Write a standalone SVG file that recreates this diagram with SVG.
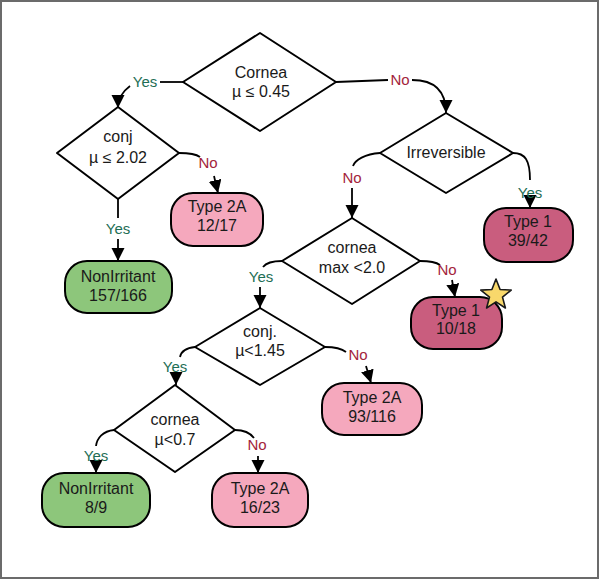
<svg xmlns="http://www.w3.org/2000/svg" width="600" height="580" viewBox="0 0 600 580">
<defs>
<marker id="arr" markerUnits="userSpaceOnUse" markerWidth="13" markerHeight="14" viewBox="0 0 13 14" refX="13" refY="6.5" orient="auto">
<path d="M0,0 L13,6.5 L0,13 Z" fill="#000"/>
</marker>
<style>
.d{fill:#fff;stroke:#000;stroke-width:2;stroke-linejoin:round}
.b{stroke:#000;stroke-width:2}
.pink{fill:#F5A8BD}
.dark{fill:#C95D7E}
.green{fill:#8DC67B}
text{font-family:"Liberation Sans",Arial,sans-serif;font-size:16px;text-anchor:middle;fill:#1a1a1a}
.yes{fill:#1E6E55;font-size:15px}
.no{fill:#A3243B;font-size:15px}
.c{fill:none;stroke:#000;stroke-width:1.8}
</style>
</defs>
<rect x="1" y="1" width="597" height="577" fill="#fff" stroke="#6b6b6b" stroke-width="2"/>
<g id="connectors">
<path class="c" d="M183,82 L160,82"/>
<path class="c" d="M130,86 C122,92 118,98 118,108" marker-end="url(#arr)"/>
<path class="c" d="M336,82 L388,80"/>
<path class="c" d="M412,80 C435,80 446,92 446,113" marker-end="url(#arr)"/>
<path class="c" d="M179,153 C190,153 196,154 200,157"/>
<path class="c" d="M214,176 L218,193" marker-end="url(#arr)"/>
<path class="c" d="M118,199 L118,218"/>
<path class="c" d="M118,239 L118,261" marker-end="url(#arr)"/>
<path class="c" d="M513,153 C525,153 530,160 530,180"/>
<path class="c" d="M530,203 L530,208" marker-end="url(#arr)"/>
<path class="c" d="M380,153 C365,154 355,160 353,166"/>
<path class="c" d="M352,188 L352,218" marker-end="url(#arr)"/>
<path class="c" d="M420,261 C430,261 436,262 440,265"/>
<path class="c" d="M452,280 L455,297" marker-end="url(#arr)"/>
<path class="c" d="M282,261 C272,261 266,263 263,267"/>
<path class="c" d="M260,287 L260,308" marker-end="url(#arr)"/>
<path class="c" d="M325,347 C335,347 341,348 346,352"/>
<path class="c" d="M366,366 L371,383" marker-end="url(#arr)"/>
<path class="c" d="M195,347 C185,348 181,352 180,357"/>
<path class="c" d="M176,376 L176,385" marker-end="url(#arr)"/>
<path class="c" d="M235,430 C245,430 251,434 254,438"/>
<path class="c" d="M258,456 L258,473" marker-end="url(#arr)"/>
<path class="c" d="M114,430 C103,431 97,438 96,446"/>
<path class="c" d="M96,466 L96,473" marker-end="url(#arr)"/>
<text class="yes" x="145" y="87">Yes</text>
<text class="no" x="400" y="85">No</text>
<text class="no" x="208" y="168">No</text>
<text class="yes" x="118" y="234">Yes</text>
<text class="yes" x="530" y="198">Yes</text>
<text class="no" x="352" y="183">No</text>
<text class="no" x="447" y="275">No</text>
<text class="yes" x="261" y="282">Yes</text>
<text class="no" x="358" y="360">No</text>
<text class="yes" x="175" y="372">Yes</text>
<text class="no" x="257" y="450">No</text>
<text class="yes" x="96" y="461">Yes</text>
</g>
<g id="cornea045">
<path class="d" d="M260,33 L336,82 L260,131 L183,82 Z"/>
<text x="261" y="78">Cornea</text>
<text x="261" y="97">µ ≤ 0.45</text>
</g>
<g id="conj202">
<path class="d" d="M118,107 L179,153 L118,199 L57,153 Z"/>
<text x="118" y="142">conj</text>
<text x="118" y="163">µ ≤ 2.02</text>
</g>
<g id="irreversible">
<path class="d" d="M446,113 L513,153 L446,193 L380,153 Z"/>
<text x="446" y="158">Irreversible</text>
</g>
<g id="corneamax">
<path class="d" d="M352,218 L420,261 L352,304 L282,261 Z"/>
<text x="352" y="253">cornea</text>
<text x="352" y="273">max &lt;2.0</text>
</g>
<g id="conj145">
<path class="d" d="M260,308 L325,347 L260,385 L195,347 Z"/>
<text x="260" y="337">conj.</text>
<text x="260" y="356">µ&lt;1.45</text>
</g>
<g id="cornea07">
<path class="d" d="M175,385 L235,430 L175,472 L114,430 Z"/>
<text x="175" y="425">cornea</text>
<text x="175" y="445">µ&lt;0.7</text>
</g>
<g id="type2a_12">
<rect class="b pink" x="171" y="193" width="92" height="53" rx="22"/>
<text x="217" y="212">Type 2A</text>
<text x="217" y="231">12/17</text>
</g>
<g id="nonirritant_157">
<rect class="b green" x="65" y="261" width="107" height="52" rx="22"/>
<text x="118" y="282">NonIrritant</text>
<text x="118" y="301">157/166</text>
</g>
<g id="type1_39">
<rect class="b dark" x="484" y="208" width="89" height="54" rx="22"/>
<text x="528" y="227">Type 1</text>
<text x="528" y="246">39/42</text>
</g>
<g id="type1_10">
<rect class="b dark" x="411" y="297" width="91" height="52" rx="22"/>
<text x="456" y="316">Type 1</text>
<text x="456" y="334">10/18</text>
<path d="M496,279 L500.1,289.5 L511.2,290.1 L502.5,297.1 L505.4,308 L496,301.9 L486.6,308 L489.5,297.1 L480.8,290.1 L491.9,289.5 Z" fill="#F8D86B" stroke="#1a1a1a" stroke-width="1.6" stroke-linejoin="round"/>
</g>
<g id="type2a_93">
<rect class="b pink" x="322" y="383" width="100" height="52" rx="22"/>
<text x="372" y="403">Type 2A</text>
<text x="372" y="422">93/116</text>
</g>
<g id="nonirritant_8">
<rect class="b green" x="42" y="473" width="108" height="54" rx="22"/>
<text x="96" y="494">NonIrritant</text>
<text x="96" y="513">8/9</text>
</g>
<g id="type2a_16">
<rect class="b pink" x="212" y="473" width="96" height="54" rx="22"/>
<text x="260" y="494">Type 2A</text>
<text x="260" y="513">16/23</text>
</g>
</svg>
